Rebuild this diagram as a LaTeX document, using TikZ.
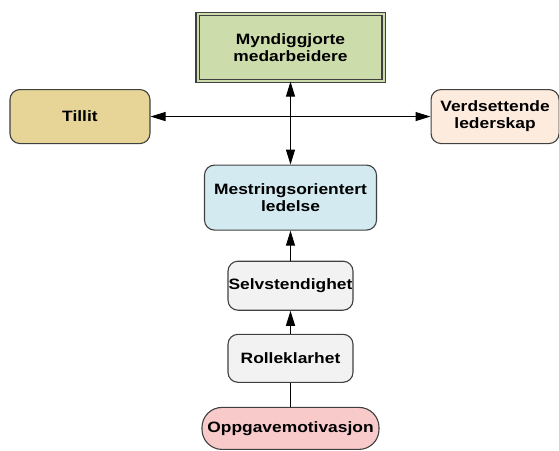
\documentclass[tikz,border=0pt]{standalone}
\usepackage{fontspec}
\setmainfont{Liberation Sans}[FakeStretch=1.16]
\usetikzlibrary{positioning, arrows.meta}
\definecolor{boxline}{HTML}{404040}
\definecolor{mgreen}{HTML}{CDDCAB}
\definecolor{mtan}{HTML}{E6D597}
\definecolor{mpeach}{HTML}{FDEBDD}
\definecolor{mblue}{HTML}{D2EAF0}
\definecolor{mgrey}{HTML}{F2F2F2}
\definecolor{mpink}{HTML}{F8CACA}

\begin{document}
\begin{tikzpicture}
		[x=1pt, y=1pt, >={Triangle[length=15pt, width=9pt]},
		 box/.style={rectangle, rounded corners=10pt, draw=boxline, line width=1.1pt, align=center, inner sep=0pt, font=\fontsize{15}{17}\selectfont\bfseries},
		 link/.style={line width=1pt, draw=black}]
		\useasboundingbox (0,0) rectangle (559,-450);
		% nodes %
		\node[box, sharp corners, fill=mgreen, double=mgreen, double distance=2pt, minimum width=186pt, minimum height=67pt] (mynd) at (290.5,-47.5) {Myndiggjorte\\medarbeidere};
		\coordinate[below=35pt of mynd] (j);
		\node[box, fill=mtan, minimum width=140pt, minimum height=54pt, left=140pt of j] (tillit) {Tillit};
		\node[box, fill=mpeach, minimum width=128pt, minimum height=54pt, right=140pt of j] (verd) {Verdsettende\\lederskap};
		\node[box, fill=mblue, minimum width=172pt, minimum height=65pt, below=83pt of mynd] (mest) {Mestringsorientert\\ledelse};
		\node[box, fill=mgrey, minimum width=125pt, minimum height=49pt, below=30pt of mest] (selv) {Selvstendighet};
		\node[box, fill=mgrey, minimum width=125pt, minimum height=48pt, below=23pt of selv] (rolle) {Rolleklarhet};
		\node[box, fill=mpink, rounded corners=20pt, minimum width=177pt, minimum height=42pt, below=24pt of rolle] (oppg) {Oppgavemotivasjon};

		% edges %
		\draw[<->, link] (mynd) -- (mest);
		\draw[<->, link] (tillit) -- (verd);
		\draw[->, link] (selv) -- (mest);
		\draw[->, link] (rolle) -- (selv);
		\draw[link] (oppg) -- (rolle);
\end{tikzpicture}
\end{document}
